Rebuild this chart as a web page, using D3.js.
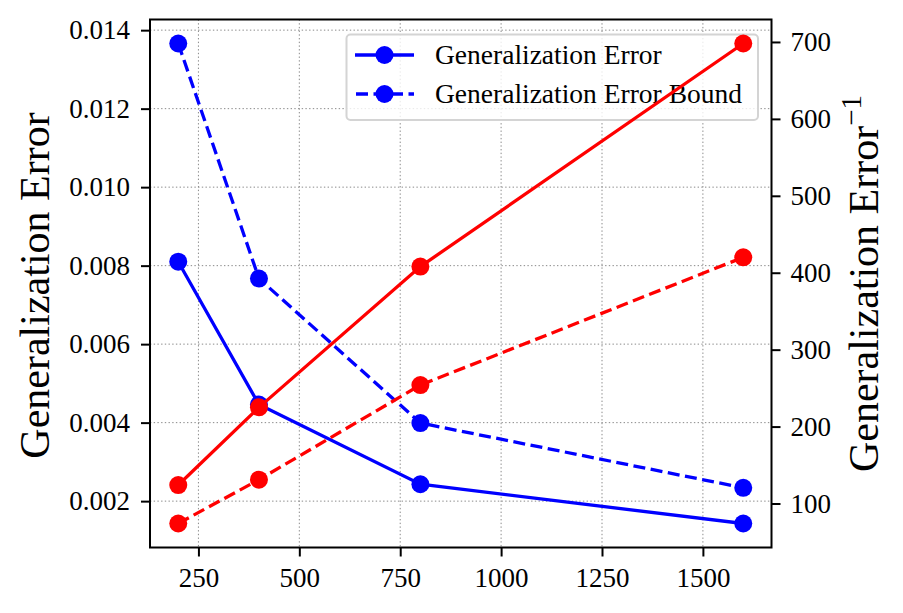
<!DOCTYPE html>
<html>
<head>
<meta charset="utf-8">
<script src="https://cdn.jsdelivr.net/npm/d3@7"></script>
<style>
  html, body { margin: 0; padding: 0; background: #fff; }
  svg { display: block; }
</style>
</head>
<body>
<svg id="chart" width="903" height="613"></svg>
<script>
// ---- data ----
const xValues = [200, 400, 800, 1600];
const genError = [0.00810, 0.00446, 0.00243, 0.00143];
const genErrorBound = [0.01366, 0.00767, 0.00399, 0.00234];
const invGenError = [124, 225, 408, 698];
const invGenErrorBound = [74, 131, 254, 420];
const xTicks = [250, 500, 750, 1000, 1250, 1500];
const leftTicks = [0.002, 0.004, 0.006, 0.008, 0.010, 0.012, 0.014];
const rightTicks = [100, 200, 300, 400, 500, 600, 700];
const legendLabels = ["Generalization Error", "Generalization Error Bound"];
const leftTitle = "Generalization Error";
const rightTitle = "Generalization Error";

const FONT = "'Liberation Serif', 'DejaVu Serif', serif";
const svg = d3.select("#chart");
const W = 903, H = 613;
const m = {left: 150, right: 903 - 771.5, top: 19.5, bottom: 613 - 547.5};
const pw = W - m.left - m.right, ph = H - m.top - m.bottom;

function padded(vals) {
  const lo = d3.min(vals), hi = d3.max(vals), p = (hi - lo) * 0.05;
  return [lo - p, hi + p];
}
const x = d3.scaleLinear().domain(padded(xValues)).range([m.left, m.left + pw]);
const yL = d3.scaleLinear().domain(padded(genError.concat(genErrorBound))).range([m.top + ph, m.top]);
const yR = d3.scaleLinear().domain(padded(invGenError.concat(invGenErrorBound))).range([m.top + ph, m.top]);

svg.append("rect").attr("width", W).attr("height", H).attr("fill", "#fff");

// grid
const grid = svg.append("g");
grid.selectAll(".gx").data(xTicks).enter().append("line")
  .attr("x1", d => x(d)).attr("x2", d => x(d)).attr("y1", m.top).attr("y2", m.top + ph)
  .attr("stroke", "#8a8a8a").attr("stroke-width", 1).attr("stroke-dasharray", "1.4,2.3");
grid.selectAll(".gy").data(leftTicks).enter().append("line")
  .attr("x1", m.left).attr("x2", m.left + pw).attr("y1", d => yL(d)).attr("y2", d => yL(d))
  .attr("stroke", "#8a8a8a").attr("stroke-width", 1).attr("stroke-dasharray", "1.4,2.3");

const LW = 3.3, R = 9, DASH = "12,5.5";
function series(g, xs, ys, yScale, color, dashed) {
  const line = d3.line().x((d, i) => x(xs[i])).y(d => yScale(d));
  g.append("path").datum(ys).attr("d", line).attr("fill", "none")
    .attr("stroke", color).attr("stroke-width", LW)
    .attr("stroke-dasharray", dashed ? DASH : null);
  g.selectAll(null).data(ys).enter().append("circle")
    .attr("cx", (d, i) => x(xs[i])).attr("cy", d => yScale(d)).attr("r", R).attr("fill", color);
}

const blue = svg.append("g");
series(blue, xValues, genError, yL, "#0000ff", false);
series(blue, xValues, genErrorBound, yL, "#0000ff", true);

// legend (belongs to left axes)
const lg = svg.append("g");
lg.append("rect").attr("x", 346.5).attr("y", 34.5).attr("width", 411.5).attr("height", 85.5)
  .attr("rx", 4).attr("fill", "#fff").attr("fill-opacity", 0.8)
  .attr("stroke", "#d4d4d4").attr("stroke-width", 2);
const rowsY = [55, 94];
legendLabels.forEach((lab, i) => {
  lg.append("line").attr("x1", 355).attr("x2", 414).attr("y1", rowsY[i]).attr("y2", rowsY[i])
    .attr("stroke", "#0000ff").attr("stroke-width", LW)
    .attr("stroke-dasharray", i === 1 ? DASH : null)
    .attr("stroke-dashoffset", i === 1 ? -1 : 0);
  lg.append("circle").attr("cx", 384.5).attr("cy", rowsY[i]).attr("r", R).attr("fill", "#0000ff");
  lg.append("text").attr("x", 435).attr("y", rowsY[i] + 9).style("font-family", FONT)
    .style("font-size", "27.5px").text(lab);
});

const red = svg.append("g");
series(red, xValues, invGenError, yR, "#ff0000", false);
series(red, xValues, invGenErrorBound, yR, "#ff0000", true);

// axes
const TS = 27;
const ax = svg.append("g").attr("transform", `translate(0,${m.top + ph})`)
  .call(d3.axisBottom(x).tickValues(xTicks).tickFormat(d3.format("d")).tickSizeInner(9).tickSizeOuter(0).tickPadding(11));
const al = svg.append("g").attr("transform", `translate(${m.left},0)`)
  .call(d3.axisLeft(yL).tickValues(leftTicks).tickFormat(d3.format(".3f")).tickSizeInner(9).tickSizeOuter(0).tickPadding(11));
const ar = svg.append("g").attr("transform", `translate(${m.left + pw},0)`)
  .call(d3.axisRight(yR).tickValues(rightTicks).tickFormat(d3.format("d")).tickSizeInner(9).tickSizeOuter(0).tickPadding(10));
[ax, al, ar].forEach(a => {
  a.attr("font-family", null).attr("font-size", null);
  a.select(".domain").remove();
  a.selectAll(".tick line").attr("stroke", "#000").attr("stroke-width", 2);
  a.selectAll(".tick text").style("font-size", TS + "px").style("font-family", FONT).attr("fill", "#000");
});

// frame
svg.append("rect").attr("x", m.left).attr("y", m.top).attr("width", pw).attr("height", ph)
  .attr("fill", "none").attr("stroke", "#000").attr("stroke-width", 2);

// axis titles
svg.append("text").attr("transform", `translate(49,${m.top + ph / 2 + 2}) rotate(-90)`)
  .attr("text-anchor", "middle").style("font-family", FONT).style("font-size", "42px").text(leftTitle);
const rt = svg.append("text").attr("transform", `translate(878,${m.top + ph / 2}) rotate(-90)`)
  .attr("text-anchor", "middle").style("font-family", FONT).style("font-size", "42px");
rt.append("tspan").text(rightTitle);
rt.append("tspan").style("font-size", "29px").attr("dy", -17).text("\u22121");
</script>
</body>
</html>
